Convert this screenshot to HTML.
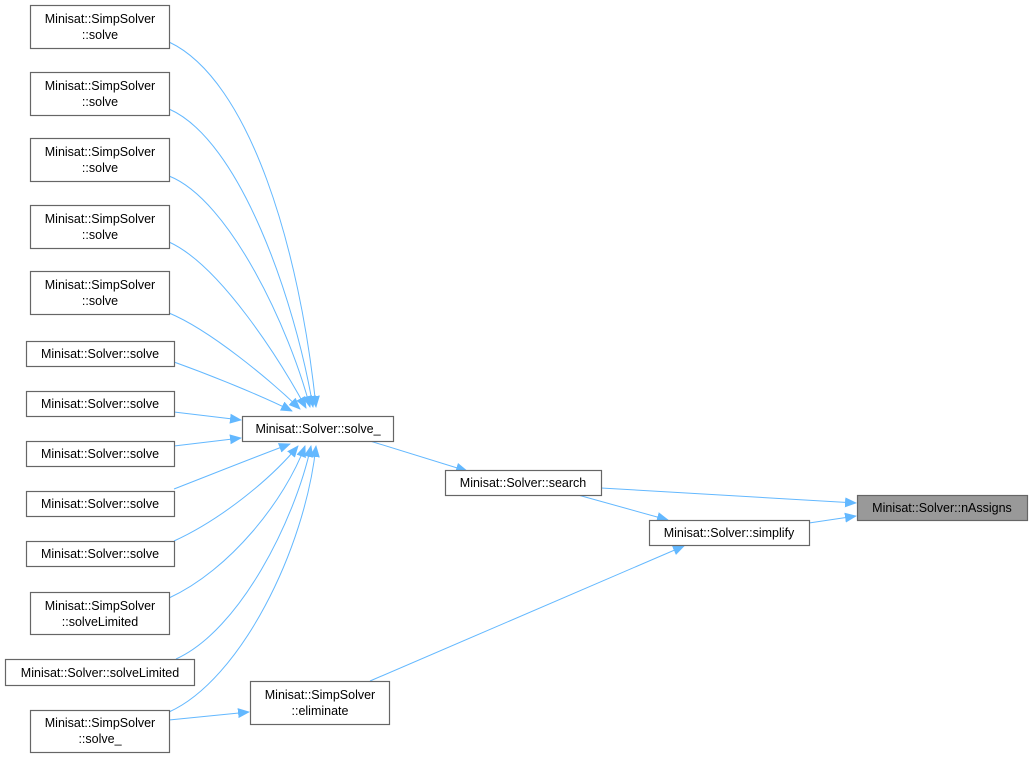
<!DOCTYPE html>
<html><head><meta charset="utf-8"><style>
body{margin:0;background:#fff;width:1033px;height:757px;overflow:hidden}
svg{position:absolute;left:0;top:0}
text{font-family:"Liberation Sans",Arial,sans-serif;font-size:12.5px;fill:#000;text-anchor:middle}
rect{fill:#fff;stroke:#666;stroke-width:1.2}
path{fill:none;stroke:#63b8ff;stroke-width:1}
</style></head><body>
<svg width="1033" height="757" viewBox="0 0 1033 757">
<defs><marker id="a" markerWidth="12" markerHeight="10" refX="11" refY="5" orient="auto" markerUnits="userSpaceOnUse"><polygon points="0,0 12,5 0,10" fill="#63b8ff"/></marker></defs>
<g marker-end="url(#a)">
<path d="M169,42 C250,80 300,250 316,407"/>
<path d="M169,109 C240,140 295,300 313,407"/>
<path d="M169,176 C230,200 290,330 310,407"/>
<path d="M169,242 C220,265 280,360 306,408"/>
<path d="M169,313 C210,330 270,380 300,409"/>
<path d="M174,362 C210,375 260,395 292,411"/>
<path d="M174,412 L241,420"/>
<path d="M174,446 L241,438"/>
<path d="M174,489 C210,475 260,455 290,444"/>
<path d="M174,541 C220,520 270,480 298,446"/>
<path d="M169,598 C230,570 285,500 305,446"/>
<path d="M176,659 C240,630 295,520 311,446"/>
<path d="M169,712 C240,680 305,550 316,446"/>
<path d="M169,720 L249,712"/>
<path d="M370,441 L467,471"/>
<path d="M601,488 L856,503"/>
<path d="M578,495 L668,520"/>
<path d="M809,523 L856,516"/>
<path d="M370,681 L684,546"/>
</g>
<rect x="30.5" y="5.5" width="139" height="43"/><text x="100" y="23">Minisat::SimpSolver</text><text x="100" y="39">::solve</text>
<rect x="30.5" y="72.5" width="139" height="43"/><text x="100" y="90">Minisat::SimpSolver</text><text x="100" y="106">::solve</text>
<rect x="30.5" y="138.5" width="139" height="43"/><text x="100" y="156">Minisat::SimpSolver</text><text x="100" y="172">::solve</text>
<rect x="30.5" y="205.5" width="139" height="43"/><text x="100" y="223">Minisat::SimpSolver</text><text x="100" y="239">::solve</text>
<rect x="30.5" y="271.5" width="139" height="43"/><text x="100" y="289">Minisat::SimpSolver</text><text x="100" y="305">::solve</text>
<rect x="26.5" y="341.5" width="148" height="25"/><text x="100" y="358">Minisat::Solver::solve</text>
<rect x="26.5" y="391.5" width="148" height="25"/><text x="100" y="408">Minisat::Solver::solve</text>
<rect x="26.5" y="441.5" width="148" height="25"/><text x="100" y="458">Minisat::Solver::solve</text>
<rect x="26.5" y="491.5" width="148" height="25"/><text x="100" y="508">Minisat::Solver::solve</text>
<rect x="26.5" y="541.5" width="148" height="25"/><text x="100" y="558">Minisat::Solver::solve</text>
<rect x="30.5" y="592.5" width="139" height="42"/><text x="100" y="610">Minisat::SimpSolver</text><text x="100" y="626">::solveLimited</text>
<rect x="5.5" y="659.5" width="189" height="26"/><text x="100" y="677">Minisat::Solver::solveLimited</text>
<rect x="30.5" y="710.5" width="139" height="42"/><text x="100" y="727">Minisat::SimpSolver</text><text x="100" y="743">::solve_</text>
<rect x="250.5" y="681.5" width="139" height="43"/><text x="320" y="699">Minisat::SimpSolver</text><text x="320" y="715">::eliminate</text>
<rect x="242.5" y="416.5" width="151" height="25"/><text x="318" y="433">Minisat::Solver::solve_</text>
<rect x="445.5" y="470.5" width="156" height="25"/><text x="523" y="487">Minisat::Solver::search</text>
<rect x="649.5" y="520.5" width="160" height="25"/><text x="729" y="537">Minisat::Solver::simplify</text>
<rect x="857.5" y="495.5" width="170" height="25" style="fill:#999"/><text x="942" y="512">Minisat::Solver::nAssigns</text>
</svg>
</body></html>
